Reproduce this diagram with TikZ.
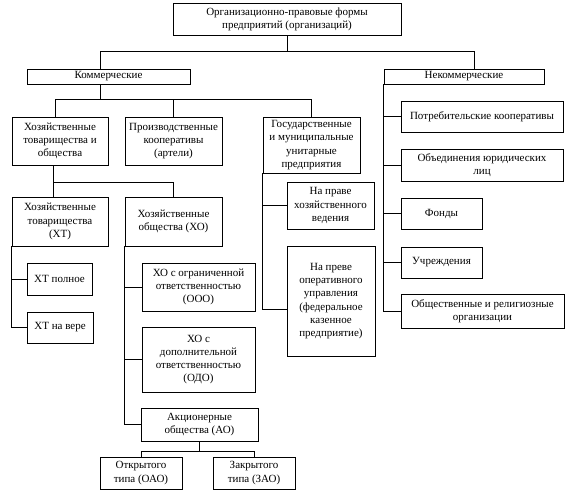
\documentclass[tikz,border=0pt]{standalone}
\usepackage{fontspec}
\setmainfont{Liberation Serif}
\begin{document}
\begin{tikzpicture}[x=1pt,y=-1pt,
  box/.style={draw, line width=0.9pt, align=center, inner sep=1pt,
    font=\fontsize{11}{13.3}\selectfont},
  conn/.style={line width=0.9pt}]
\useasboundingbox[fill=white] (0,0) rectangle (575,499);
\newcommand\mybox[6]{\node[box, minimum width={(#4-#2)*1pt}, minimum height={(#5-#3)*1pt}] (#1) at ({(#2+#4)/2},{(#3+#5)/2}) {#6};}
\mybox{top}{173}{3}{401}{35}{Организационно-правовые формы\\предприятий (организаций)}
\mybox{kom}{27}{69}{190}{84}{Коммерческие}
\mybox{nekom}{384}{69}{544}{84}{Некоммерческие}
\mybox{hoz}{12}{117}{108}{165}{Хозяйственные\\товарищества и\\общества}
\mybox{proiz}{125}{117}{222}{165}{Производственные\\кооперативы\\(артели)}
\mybox{gos}{263}{117}{360}{173}{Государственные\\и муниципальные\\унитарные\\предприятия}
\mybox{xt}{12}{197}{108}{246}{Хозяйственные\\товарищества\\(ХТ)}
\mybox{xo}{125}{197}{222}{246}{Хозяйственные\\общества (ХО)}
\mybox{xtp}{27}{263}{92}{295}{ХТ полное}
\mybox{xtv}{27}{312}{93}{343}{ХТ на вере}
\mybox{ooo}{142}{263}{255}{311}{ХО с ограниченной\\ответственностью\\(ООО)}
\mybox{odo}{142}{327}{255}{392}{ХО с\\дополнительной\\ответственностью\\(ОДО)}
\mybox{ao}{141}{408}{258}{441}{Акционерные\\общества (АО)}
\mybox{oao}{100}{457}{182}{489}{Открытого\\типа (ОАО)}
\mybox{zao}{213}{457}{295}{489}{Закрытого\\типа (ЗАО)}
\mybox{hv}{287}{182}{374}{229}{На праве\\хозяйственного\\ведения}
\mybox{ou}{287}{246}{375}{356}{На преве\\оперативного\\управления\\(федеральное\\казенное\\предприятие)}
\mybox{potr}{401}{101}{563}{132}{Потребительские кооперативы}
\mybox{obed}{401}{149}{563}{181}{Объединения юридических\\лиц}
\mybox{fond}{401}{198}{482}{229}{Фонды}
\mybox{uch}{401}{247}{482}{278}{Учреждения}
\mybox{obsh}{401}{294}{564}{328}{Общественные и религиозные\\организации}
% connectors
\draw[conn] (top.south) -- ++(0,17);
\draw[conn] (kom.north -| 100,0) -- ++(0,-17) -| (nekom.north -| 474,0);
\draw[conn] (kom.south -| 100,0) -- ++(0,16);
\draw[conn] (hoz.north -| 55,0) -- ++(0,-17) -| (gos.north);
\draw[conn] (proiz.north) -- ++(0,-17);
\draw[conn] (hoz.south -| 53,0) -- (xt.north -| 53,0);
\draw[conn] (hoz.south -| 53,0) -- ++(0,17) -| (xo.north);
\draw[conn] (xt.south west) |- (xtp.west);
\draw[conn] (xt.south west) |- (xtv.west);
\draw[conn] (xo.south west) |- (ooo.west);
\draw[conn] (xo.south west) |- (odo.west);
\draw[conn] (xo.south west) |- (ao.west);
\draw[conn] (ao.south) -- ++(0,10) -| (oao.north);
\draw[conn] (ao.south) -- ++(0,10) -| (zao.north);
\draw[conn] (gos.south west) |- (hv.west);
\draw[conn] (gos.south west) |- ([yshift=-8pt]ou.west);
\draw[conn] (nekom.south west) |- (potr.west);
\draw[conn] (nekom.south west) |- (obed.west);
\draw[conn] (nekom.south west) |- (fond.west);
\draw[conn] (nekom.south west) |- (uch.west);
\draw[conn] (nekom.south west) |- (obsh.west);
\end{tikzpicture}
\end{document}
